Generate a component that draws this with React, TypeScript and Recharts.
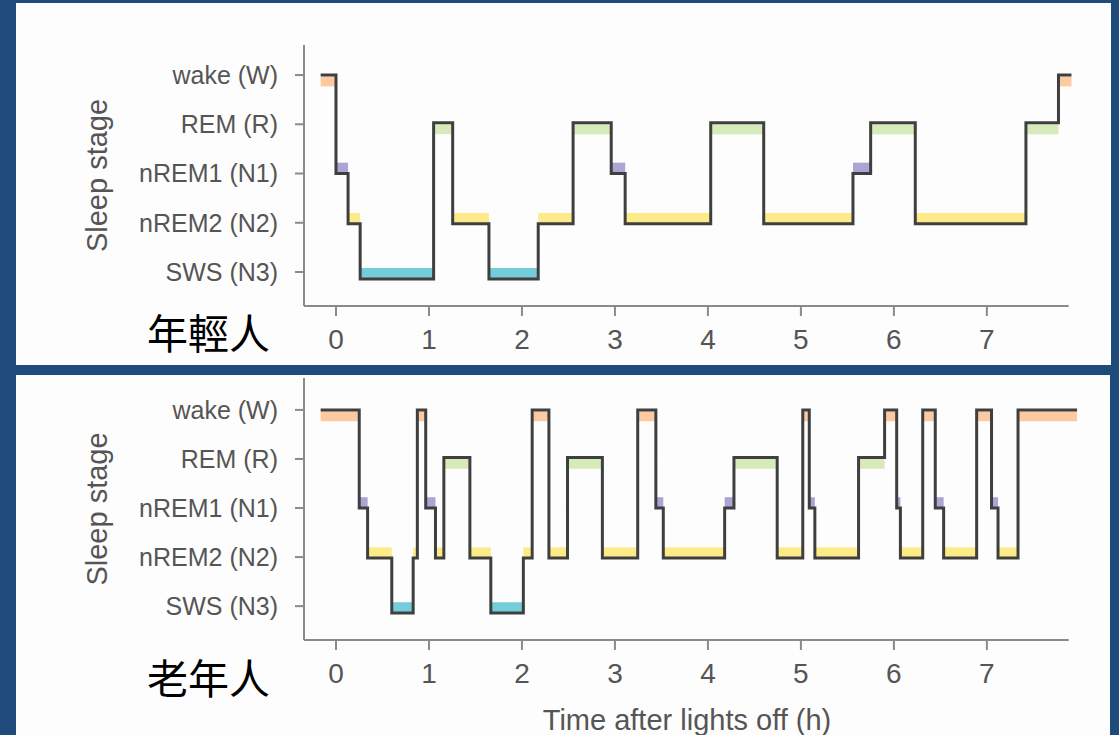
import { LineChart, Line, XAxis, YAxis, ReferenceArea, ReferenceLine } from "recharts";

// stage codes, ordered bottom -> top on the y axis
const stageCodes = ["N3", "N2", "N1", "R", "W"];
const stageLabels = ["SWS (N3)", "nREM2 (N2)", "nREM1 (N1)", "REM (R)", "wake (W)"];
const hourTicks = [0, 1, 2, 3, 4, 5, 6, 7];

// young sleeper: stage of each epoch and the hour it begins
const youngStages = ["W", "N1", "N2", "N3", "R", "N2", "N3", "N2", "R", "N1", "N2", "R", "N2", "N1", "R", "N2", "R", "W"];
const youngStarts = [-0.165, 0, 0.13, 0.26, 1.05, 1.255, 1.645, 2.175, 2.55, 2.96, 3.11, 4.03, 4.6, 5.56, 5.75, 6.23, 7.42, 7.77];
const youngEnd = 7.91;

// older sleeper
const elderStages = [
  "W", "N1", "N2", "N3", "N2", "W", "N1", "N2", "R", "N2",
  "N3", "N2", "W", "N2", "R", "N2", "W", "N1", "N2", "N1",
  "R", "N2", "W", "N1", "N2", "R", "W", "N1", "N2", "W",
  "N1", "N2", "W", "N1", "N2", "W",
];
const elderStarts = [
  -0.165, 0.25, 0.34, 0.6, 0.83, 0.875, 0.965, 1.07, 1.16, 1.44,
  1.665, 2.015, 2.11, 2.29, 2.49, 2.865, 3.245, 3.44, 3.52, 4.18,
  4.28, 4.745, 5.02, 5.09, 5.15, 5.62, 5.9, 6.03, 6.07, 6.31,
  6.445, 6.535, 6.89, 7.05, 7.12, 7.335,
];
const elderEnd = 7.97;

// where the hypnogram line sits for each stage (slightly off the tick like the original)
const lineLevel: Record<string, number> = { N3: -0.14, N2: 0.98, N1: 2, R: 3.03, W: 4 };
const bandColor: Record<string, string> = {
  W: "#fdc9a0",
  R: "#d7eab9",
  N1: "#aaa5d2",
  N2: "#fdeb8a",
  N3: "#74cdd8",
};

const FONT = "'Liberation Sans', Arial, sans-serif";
const GREY = "#555555";
const AXIS = "#8a8a8a";
const X_MIN = -0.344;
const X_MAX = 7.98;
const AXIS_END = 7.88;

const SleepLabel = ({ viewBox }: any) => {
  const cy = viewBox.y + viewBox.height / 2;
  return (
    <text
      x={97}
      y={cy}
      transform={`rotate(-90 97 ${cy})`}
      textAnchor="middle"
      dominantBaseline="central"
      fill={GREY}
      fontSize={29}
      fontFamily={FONT}
    >
      Sleep stage
    </text>
  );
};

const TimeLabel = ({ viewBox }: any) => (
  <text
    x={viewBox.x + viewBox.width / 2 - 4}
    y={viewBox.y + 80}
    textAnchor="middle"
    dominantBaseline="central"
    fill={GREY}
    fontSize={29}
    fontFamily={FONT}
  >
    Time after lights off (h)
  </text>
);

type HypnoProps = {
  stages: string[];
  starts: number[];
  end: number;
  yMax: number;
  top: number;
  height: number;
  margin: { top: number; right: number; bottom: number; left: number };
  xAxisHeight: number;
  showXLabel?: boolean;
};

const Hypnogram = ({ stages, starts, end, yMax, top, height, margin, xAxisHeight, showXLabel }: HypnoProps) => {
  const yMin = -0.69;
  const data = stages.map((s, i) => ({ t: starts[i], level: lineLevel[s] }));
  data.push({ t: end, level: lineLevel[stages[stages.length - 1]] });

  return (
    <div style={{ position: "absolute", left: 0, top }}>
      <LineChart width={1119} height={height} data={data} margin={margin}>
        {stages.map((s, i) => {
          const L = lineLevel[s];
          const upper = s === "W" || s === "R";
          return (
            <ReferenceArea
              key={i}
              x1={starts[i]}
              x2={i + 1 < starts.length ? starts[i + 1] : end}
              y1={upper ? L - 0.23 : L + 0.02}
              y2={upper ? L - 0.03 : L + 0.22}
              fill={bandColor[s]}
              fillOpacity={1}
              stroke="none"
              ifOverflow="visible"
            />
          );
        })}
        <XAxis
          dataKey="t"
          type="number"
          domain={[X_MIN, X_MAX]}
          allowDataOverflow
          ticks={hourTicks}
          interval={0}
          height={xAxisHeight}
          axisLine={false}
          tickLine={{ stroke: AXIS, strokeWidth: 2 }}
          tickSize={10}
          tickMargin={13}
          tick={{ fill: GREY, fontSize: 28, fontFamily: FONT }}
          label={showXLabel ? <TimeLabel /> : undefined}
        />
        <YAxis
          type="number"
          domain={[yMin, yMax]}
          allowDataOverflow
          ticks={[0, 1, 2, 3, 4]}
          interval={0}
          width={304}
          tickFormatter={(v: number) => stageLabels[v]}
          axisLine={{ stroke: AXIS, strokeWidth: 2 }}
          tickLine={{ stroke: AXIS, strokeWidth: 2 }}
          tickSize={9}
          tickMargin={17}
          tick={{ fill: GREY, fontSize: 25, fontFamily: FONT }}
          label={<SleepLabel />}
        />
        <ReferenceLine
          segment={[
            { x: X_MIN, y: yMin },
            { x: AXIS_END, y: yMin },
          ]}
          stroke={AXIS}
          strokeWidth={2}
          ifOverflow="visible"
        />
        <Line
          type="stepAfter"
          dataKey="level"
          stroke="#3f3f3f"
          strokeWidth={3}
          dot={false}
          activeDot={false}
          isAnimationActive={false}
        />
      </LineChart>
    </div>
  );
};

const cjk = {
  position: "absolute" as const,
  left: 147,
  fontSize: 41,
  lineHeight: "42px",
  color: "#000",
  fontFamily: "'Noto Sans CJK TC', 'Noto Sans CJK SC', sans-serif",
};

export default function App() {
  return (
    <div style={{ position: "absolute", left: 0, top: 0, width: 1119, height: 735, background: "#1f4a7c", overflow: "hidden" }}>
      <div style={{ position: "absolute", left: 16, top: 3, width: 1095, height: 362, background: "#fdfdfd" }} />
      <div style={{ position: "absolute", left: 16, top: 375, width: 1094, height: 360, background: "#fdfdfd" }} />
      <Hypnogram
        stages={youngStages}
        starts={youngStarts}
        end={youngEnd}
        yMax={4.61}
        top={0}
        height={370}
        margin={{ top: 45, right: 41, bottom: 24, left: 0 }}
        xAxisHeight={40}
      />
      <Hypnogram
        stages={elderStages}
        starts={elderStarts}
        end={elderEnd}
        yMax={4.65}
        top={370}
        height={365}
        margin={{ top: 8, right: 41, bottom: 15, left: 0 }}
        xAxisHeight={80}
        showXLabel
      />
      <div style={{ ...cjk, top: 310 }}>年輕人</div>
      <div style={{ ...cjk, top: 655 }}>老年人</div>
    </div>
  );
}
